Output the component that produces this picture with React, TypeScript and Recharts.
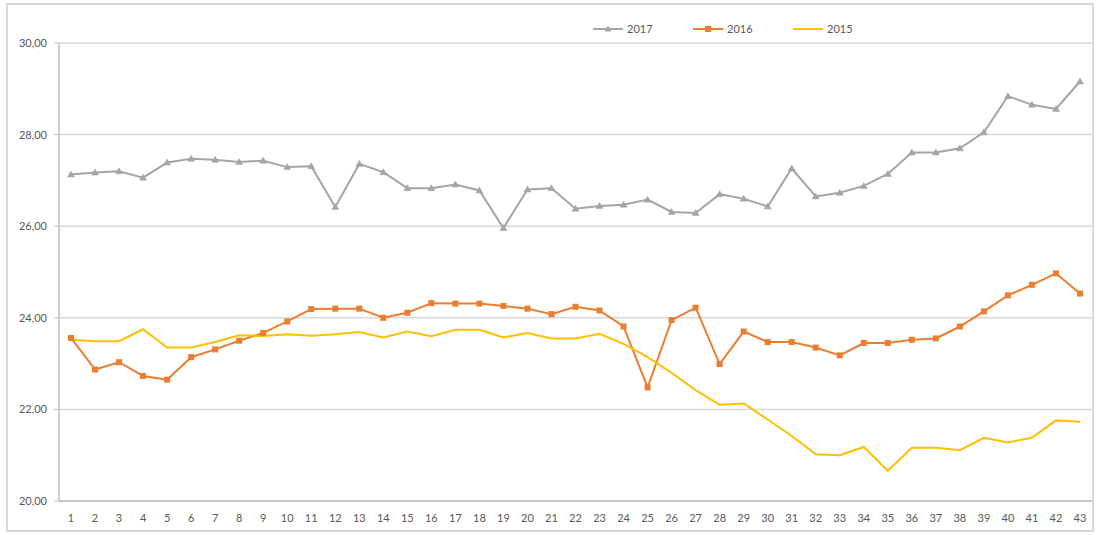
import { CartesianGrid, Legend, Line, LineChart, XAxis, YAxis } from "recharts";

const days = [
  1, 2, 3, 4, 5, 6, 7, 8, 9, 10, 11, 12, 13, 14, 15, 16, 17, 18, 19, 20, 21,
  22, 23, 24, 25, 26, 27, 28, 29, 30, 31, 32, 33, 34, 35, 36, 37, 38, 39, 40,
  41, 42, 43,
];

const values2017 = [
  27.13, 27.17, 27.2, 27.06, 27.39, 27.47, 27.45, 27.4, 27.43, 27.29, 27.31,
  26.42, 27.36, 27.18, 26.83, 26.83, 26.91, 26.78, 25.96, 26.8, 26.83, 26.38,
  26.44, 26.47, 26.58, 26.31, 26.29, 26.7, 26.6, 26.43, 27.26, 26.65, 26.73,
  26.88, 27.14, 27.61, 27.61, 27.7, 28.05, 28.84, 28.65, 28.56, 29.16,
];

const values2016 = [
  23.56, 22.87, 23.03, 22.73, 22.65, 23.14, 23.31, 23.5, 23.67, 23.92, 24.19,
  24.2, 24.2, 24.0, 24.11, 24.32, 24.31, 24.31, 24.26, 24.2, 24.08, 24.24,
  24.16, 23.81, 22.48, 23.95, 24.22, 22.99, 23.7, 23.47, 23.47, 23.35, 23.18,
  23.45, 23.45, 23.52, 23.55, 23.81, 24.14, 24.49, 24.72, 24.97, 24.53,
];

const values2015 = [
  23.52, 23.49, 23.49, 23.75, 23.35, 23.35, 23.47, 23.62, 23.6, 23.64, 23.61,
  23.64, 23.69, 23.57, 23.7, 23.6, 23.74, 23.74, 23.57, 23.67, 23.55, 23.55,
  23.65, 23.43, 23.14, 22.8, 22.42, 22.1, 22.13, 21.78, 21.42, 21.02, 21.0,
  21.18, 20.66, 21.16, 21.16, 21.11, 21.38, 21.28, 21.38, 21.76, 21.73,
];

const yTicks = [20, 22, 24, 26, 28, 30];

const data = days.map((d, i) => ({
  day: d,
  y2017: values2017[i],
  y2016: values2016[i],
  y2015: values2015[i],
}));

const sepTicks = [0.5, ...days.map((d) => d + 0.5)];

const FONT = "Lato, 'Open Sans', sans-serif";
const GREY = "#a5a5a5";
const ORANGE = "#ed7d31";
const YELLOW = "#ffc000";

const Triangle = (props: any) => {
  const { cx, cy } = props;
  if (cx == null || cy == null) return null;
  return (
    <polygon
      points={`${cx},${cy - 3.5} ${cx + 3.5},${cy + 2.5} ${cx - 3.5},${cy + 2.5}`}
      fill={GREY}
      stroke={GREY}
      strokeWidth={0.5}
    />
  );
};

const Square = (props: any) => {
  const { cx, cy } = props;
  if (cx == null || cy == null) return null;
  return <rect x={cx - 3} y={cy - 3} width={6} height={6} fill={ORANGE} />;
};

const legendItems = [
  { name: "2017", color: GREY, marker: "triangle" },
  { name: "2016", color: ORANGE, marker: "square" },
  { name: "2015", color: YELLOW, marker: "none" },
];

const LegendContent = () => (
  <div style={{ display: "flex", fontFamily: FONT, fontSize: 11, color: "#595959" }}>
    {legendItems.map((it) => (
      <div key={it.name} style={{ display: "flex", alignItems: "center", width: 100 }}>
        <svg width={30} height={10}>
          <line x1={0} y1={5} x2={30} y2={5} stroke={it.color} strokeWidth={2} />
          {it.marker === "triangle" && (
            <polygon points="15,1.5 18.5,7.5 11.5,7.5" fill={it.color} />
          )}
          {it.marker === "square" && <rect x={12} y={2} width={6} height={6} fill={it.color} />}
        </svg>
        <span style={{ marginLeft: 4 }}>{it.name}</span>
      </div>
    ))}
  </div>
);

const App = () => {
  return (
    <div style={{ position: "absolute", left: 0, top: 0, width: 1096, height: 535, background: "#fff" }}>
      <LineChart
        width={1096}
        height={535}
        data={data}
        margin={{ top: 43, right: 4, bottom: 0, left: 0 }}
      >
        <CartesianGrid vertical={false} stroke="#d9d9d9" strokeWidth={1.5} />
        <XAxis
          xAxisId="sep"
          type="number"
          domain={[0.5, 43.5]}
          allowDataOverflow
          ticks={sepTicks}
          tick={false}
          tickSize={4}
          axisLine={false}
          tickLine={{ stroke: "#bfbfbf" }}
          height={0}
        />
        <XAxis
          dataKey="day"
          type="number"
          domain={[0.5, 43.5]}
          ticks={days}
          interval={0}
          tickSize={0}
          tickMargin={13}
          height={34}
          axisLine={{ stroke: "#bfbfbf", strokeWidth: 1.5 }}
          tick={{ fontSize: 11, fontFamily: FONT, fill: "#595959" }}
        />
        <YAxis
          domain={[20, 30]}
          ticks={yTicks}
          width={59}
          tickSize={5}
          tickMargin={7}
          tickFormatter={(v: number) => v.toFixed(2).replace(".", ",")}
          axisLine={{ stroke: "#bfbfbf", strokeWidth: 1.5 }}
          tickLine={{ stroke: "#bfbfbf" }}
          tick={{ fontSize: 11, fontFamily: FONT, fill: "#595959" }}
        />
        <Legend
          layout="horizontal"
          verticalAlign="middle"
          align="center"
          wrapperStyle={{ top: 22, left: 593, width: 300 }}
          content={<LegendContent />}
        />
        <Line
          dataKey="y2017"
          name="2017"
          stroke={GREY}
          strokeWidth={2}
          dot={<Triangle />}
          activeDot={false}
          isAnimationActive={false}
        />
        <Line
          dataKey="y2016"
          name="2016"
          stroke={ORANGE}
          strokeWidth={2}
          dot={<Square />}
          activeDot={false}
          isAnimationActive={false}
        />
        <Line
          dataKey="y2015"
          name="2015"
          stroke={YELLOW}
          strokeWidth={2}
          dot={false}
          activeDot={false}
          isAnimationActive={false}
        />
      </LineChart>
      <div
        style={{
          position: "absolute",
          left: 6,
          top: 3,
          width: 1088,
          height: 529,
          border: "2px solid #d9d9d9",
          boxSizing: "border-box",
          pointerEvents: "none",
        }}
      />
    </div>
  );
};

export default App;
